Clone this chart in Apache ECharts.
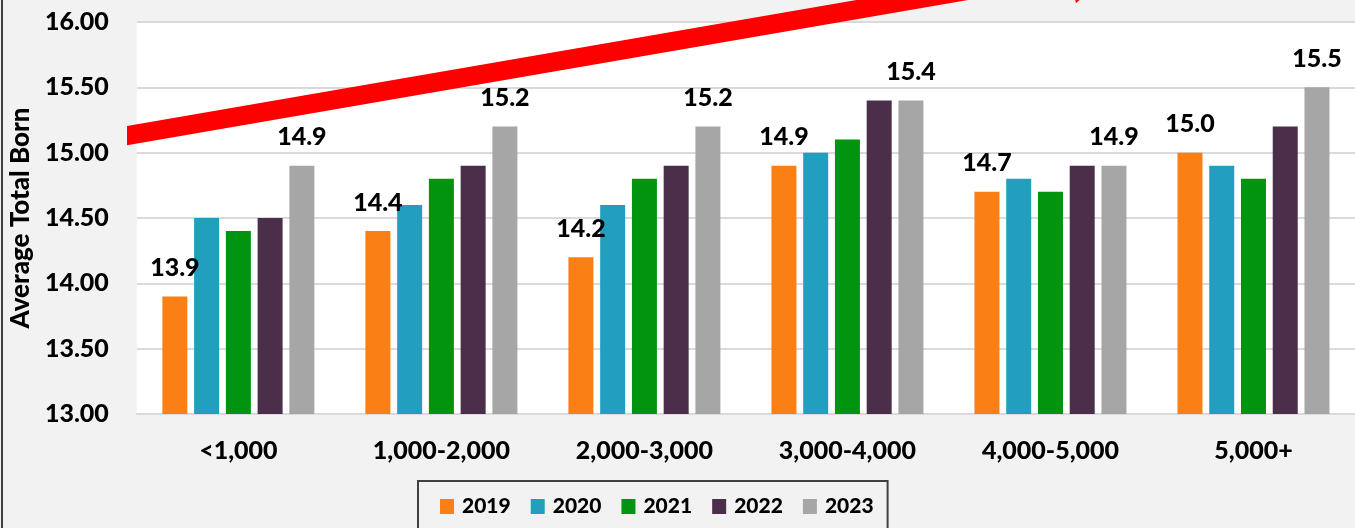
<!DOCTYPE html>
<html>
<head>
<meta charset="utf-8">
<script src="https://cdn.jsdelivr.net/npm/echarts@6/dist/echarts.min.js"></script>
<style>
	html, body { margin: 0; padding: 0; background: #f2f2f2; }
	#chart { width: 1355px; height: 528px; }
</style>
</head>
<body>
<div id="chart"></div>
<script>
var categories = ['<1,000', '1,000-2,000', '2,000-3,000', '3,000-4,000', '4,000-5,000', '5,000+'];
var years = ['2019', '2020', '2021', '2022', '2023'];
var v2019 = [13.9, 14.4, 14.2, 14.9, 14.7, 15.0];
var v2020 = [14.5, 14.6, 14.6, 15.0, 14.8, 14.9];
var v2021 = [14.4, 14.8, 14.8, 15.1, 14.7, 14.8];
var v2022 = [14.5, 14.9, 14.9, 15.4, 14.9, 15.2];
var v2023 = [14.9, 15.2, 15.2, 15.4, 14.9, 15.5];
var yTicks = [13, 13.5, 14, 14.5, 15, 15.5, 16];
// red trend arrow, in (group position, avg total born) units
var arrowStart = [-0.0585, 15.128];
var arrowEnd = [4.72, 16.41];

var colors = ['#fa7f15', '#229fbf', '#00940f', '#4b2f4a', '#a6a6a6'];
var FONT = 'Lato';
var WEIGHT = 900;

(function() {
	var chart = echarts.init(document.getElementById('chart'));
	var seriesValues = [v2019, v2020, v2021, v2022, v2023];

	var labelStyle = {
		show: true,
		position: 'top',
		distance: 16,
		fontFamily: FONT,
		fontWeight: WEIGHT,
		fontSize: 25,
		color: '#000',
		formatter: function(p) { return p.value.toFixed(1); }
	};

	var series = years.map(function(y, i) {
		var s = {
			name: y,
			type: 'bar',
			barWidth: 25,
			barGap: '27%',
			data: seriesValues[i],
			itemStyle: { color: colors[i] }
		};
		// only first and last year carry value labels
		if (i === 0 || i === years.length - 1) s.label = labelStyle;
		return s;
	});

	series.push({
		name: 'trend',
		type: 'line',
		xAxisIndex: 1,
		clip: false,
		silent: true,
		z: 5,
		showSymbol: true,
		lineStyle: { color: '#ff0000', width: 19, cap: 'butt' },
		itemStyle: { color: '#ff0000' },
		data: [
			{ value: arrowStart, symbol: 'none' },
			{ value: arrowEnd, symbol: 'triangle', symbolSize: [62, 50], symbolRotate: -80 }
		]
	});

	chart.setOption({
		backgroundColor: '#f2f2f2',
		animation: false,
		textStyle: { fontFamily: FONT },
		graphic: [{
			type: 'rect',
			shape: { x: 1, y: 0, width: 2, height: 528 },
			style: { fill: '#404040' }
		}],
		legend: {
			data: years,
			left: 418,
			top: 481,
			icon: 'rect',
			itemWidth: 14,
			itemHeight: 15,
			itemGap: 20,
			padding: [15, 14, 40, 22],
			borderColor: '#404040',
			borderWidth: 2,
			textStyle: { fontFamily: FONT, fontWeight: WEIGHT, fontSize: 21, color: '#000', padding: [0, 0, 0, 3] }
		},
		grid: {
			left: 134,
			top: 22,
			width: 1230,
			height: 392,
			show: true,
			backgroundColor: '#ffffff',
			borderWidth: 0
		},
		xAxis: [{
			type: 'category',
			data: categories,
			axisTick: { show: false },
			axisLine: { lineStyle: { color: '#d9d9de', width: 2 } },
			axisLabel: { margin: 24, fontFamily: FONT, fontWeight: WEIGHT, fontSize: 25, color: '#000' }
		}, {
			type: 'value',
			min: 0,
			max: 6,
			show: false
		}],
		yAxis: {
			type: 'value',
			min: yTicks[0],
			max: yTicks[yTicks.length - 1],
			interval: 0.5,
			name: 'Average Total Born',
			nameLocation: 'middle',
			nameRotate: 90,
			nameGap: 97,
			nameTextStyle: { fontFamily: FONT, fontWeight: WEIGHT, fontSize: 26, color: '#000' },
			axisLine: { show: false },
			axisTick: { show: false },
			splitLine: { lineStyle: { color: '#d9d9de', width: 2 } },
			axisLabel: {
				margin: 28,
				fontFamily: FONT,
				fontWeight: WEIGHT,
				fontSize: 25,
				color: '#000',
				formatter: function(v) { return v.toFixed(2); }
			}
		},
		series: series
	});
})();
</script>
</body>
</html>
